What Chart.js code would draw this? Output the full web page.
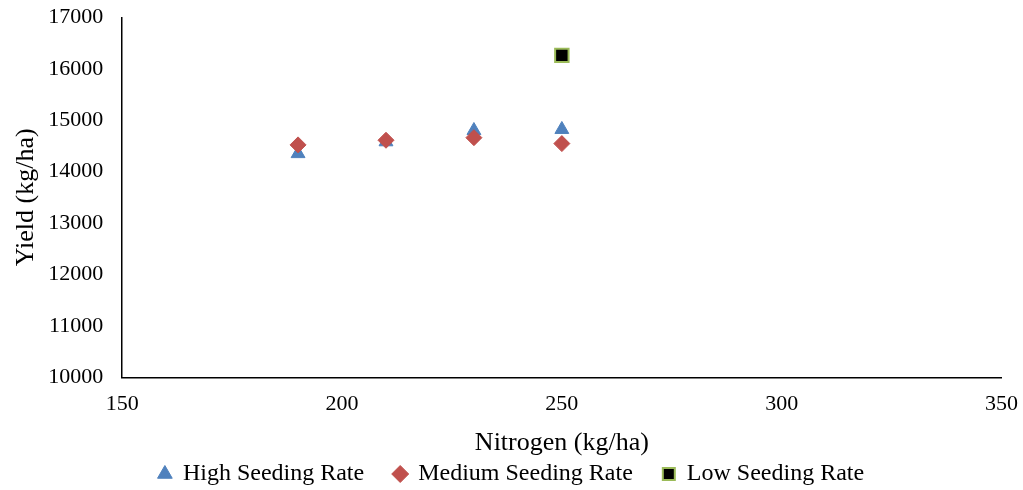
<!DOCTYPE html>
<html>
<head>
<meta charset="utf-8">
<script src="https://cdn.jsdelivr.net/npm/chart.js@4/dist/chart.umd.min.js"></script>
<style>
  html, body { margin: 0; padding: 0; background: #fff; }
  #wrap { width: 1023px; height: 490px; }
</style>
</head>
<body>
<div id="wrap"><canvas id="chart"></canvas></div>
<script>
const nitrogen = [190, 210, 230, 250];
const highRate = [14350, 14580, 14800, 14820];
const mediumRate = [14520, 14610, 14660, 14545];
const lowN = [250];
const lowRate = [16260];

const xTicks = [150, 200, 250, 300, 350];
const yTicks = [10000, 11000, 12000, 13000, 14000, 15000, 16000, 17000];

const toPoints = (xs, ys) => xs.map((x, i) => ({ x: x, y: ys[i] }));

const serif = "'Liberation Serif', 'Times New Roman', serif";

new Chart(document.getElementById("chart"), {
  type: "scatter",
  data: {
    datasets: [
      {
        label: "High Seeding Rate",
        data: toPoints(nitrogen, highRate),
        pointStyle: "triangle",
        pointRadius: 8,
        backgroundColor: "#4f81bd",
        borderColor: "#4f81bd",
        borderWidth: 1,
        order: 2,
      },
      {
        label: "Medium Seeding Rate",
        data: toPoints(nitrogen, mediumRate),
        pointStyle: "rectRot",
        pointRadius: 8,
        backgroundColor: "#c0504d",
        borderColor: "#c0504d",
        borderWidth: 1,
        order: 1,
      },
      {
        label: "Low Seeding Rate",
        data: toPoints(lowN, lowRate),
        pointStyle: "rect",
        pointRadius: 9.5,
        backgroundColor: "#000000",
        borderColor: "#9bbb59",
        borderWidth: 2,
        order: 0,
      },
    ],
  },
  options: {
    responsive: true,
    maintainAspectRatio: false,
    animation: false,
    layout: { padding: { left: 0, right: 0, top: 0, bottom: -6 } },
    plugins: {
      tooltip: { enabled: false },
      legend: {
        position: "bottom",
        labels: {
          usePointStyle: true,
          boxWidth: 12,
          boxHeight: 12,
          padding: 30,
          color: "#000",
          font: { family: serif, size: 24 },
          sort: (a, b) => a.datasetIndex - b.datasetIndex,
        },
      },
    },
    scales: {
      x: {
        type: "linear",
        min: 150,
        max: 350,
        afterBuildTicks: (axis) => {
          axis.ticks = xTicks.map((v) => ({ value: v }));
        },
        grid: { display: false, drawTicks: true, tickLength: 5, tickColor: "#000" },
        border: { color: "#000", width: 1.5 },
        ticks: { color: "#000", font: { family: serif, size: 22, lineHeight: 1.564 }, padding: 5 },
        title: {
          display: true,
          text: "Nitrogen (kg/ha)",
          color: "#000",
          font: { family: serif, size: 26 },
          padding: { top: 1, bottom: -27 },
        },
      },
      y: {
        type: "linear",
        min: 10000,
        max: 17000,
        afterBuildTicks: (axis) => {
          axis.ticks = yTicks.map((v) => ({ value: v }));
        },
        grid: { display: false, drawTicks: true, tickLength: 5, tickColor: "#000" },
        border: { color: "#000", width: 1.5 },
        ticks: {
          color: "#000",
          font: { family: serif, size: 22, lineHeight: 0.3 },
          padding: 14,
          callback: (v) => String(v),
        },
        title: {
          display: true,
          text: "Yield (kg/ha)",
          color: "#000",
          font: { family: serif, size: 26 },
          padding: { top: 11, bottom: -8 },
        },
      },
    },
  },
});
</script>
</body>
</html>
